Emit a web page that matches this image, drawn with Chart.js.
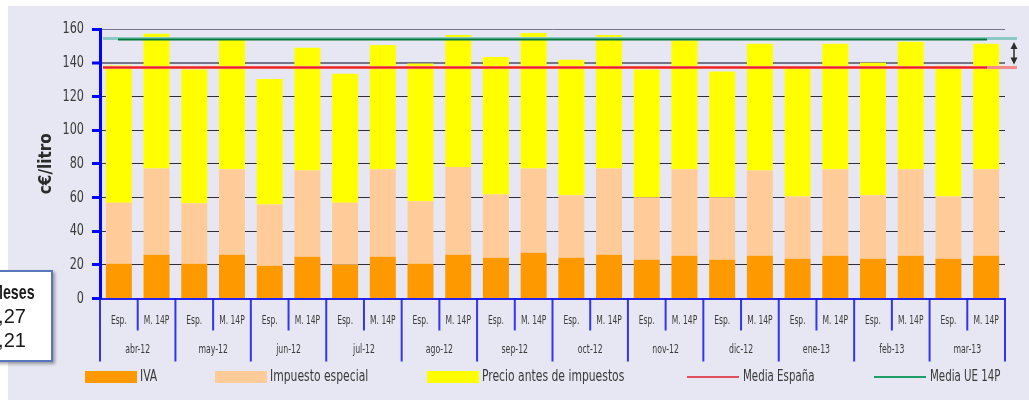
<!DOCTYPE html>
<html lang="es">
<head>
<meta charset="utf-8">
<title>Precio gasolina: España frente a la media UE 14P</title>
<script src="https://cdn.jsdelivr.net/npm/chart.js@4.4.1/dist/chart.umd.min.js"></script>
<style>
  html, body { margin: 0; padding: 0; background: #fff; }
  #wrap { position: relative; width: 1029px; height: 400px; overflow: hidden; }
  #fondo { position: absolute; left: 8px; top: 6px; right: 0; bottom: 0; background: #e7e7f3; }
  #grafico { position: absolute; left: 0; top: 0; }
  #nota {
    position: absolute; left: -30px; top: 270px; width: 83px; height: 92px;
    box-sizing: border-box; background: #fff; border: 2px solid #5a76bd;
    box-shadow: 2px 2px 3px rgba(0, 0, 0, .35);
    padding: 8px 0 0 15px; color: #1a1a1a;
    font-family: "Liberation Sans", Arial, sans-serif; font-size: 20px; line-height: 24px;
  }
  #nota b { display: inline-block; margin-left: 4px; font-size: 21px; transform: scaleX(0.68); transform-origin: left center; }
</style>
</head>
<body>
<div id="wrap">
  <div id="fondo"></div>
  <canvas id="grafico" width="1029" height="400"></canvas>
  <div id="nota"><b>Meses</b><br>0,27<br>0,21</div>
</div>
<script>
// meses y grupo de comparación (España / media 14 países UE)
const meses = ['abr-12', 'may-12', 'jun-12', 'jul-12', 'ago-12', 'sep-12',
               'oct-12', 'nov-12', 'dic-12', 'ene-13', 'feb-13', 'mar-13'];
const grupos = ['Esp.', 'M. 14P'];

// c€/litro, alternando Esp. / M. 14P por mes
const iva = [20.6, 26.0, 20.6, 26.0, 19.4, 24.8, 20.0, 24.8, 20.6, 26.0, 24.2, 27.2,
             24.2, 26.0, 23.0, 25.4, 23.0, 25.4, 23.6, 25.4, 23.6, 25.4, 23.6, 25.4];
const impuestoEspecial = [36.3, 51.2, 35.9, 50.8, 36.4, 51.2, 36.9, 52.0, 37.1, 52.0, 37.5, 50.0,
                          37.1, 51.2, 37.1, 51.4, 37.1, 50.6, 36.9, 51.4, 37.7, 51.4, 36.9, 51.4];
const precioAntesImpuestos = [81.5, 80.0, 79.5, 76.7, 74.5, 72.9, 76.6, 73.7, 81.8, 78.4, 81.7, 80.4,
                              80.5, 79.2, 75.9, 76.3, 74.6, 75.3, 75.9, 74.5, 78.7, 75.7, 77.7, 74.5];

const mediaEspana = 137.2;
const mediaUE14P = 154.0;

const ticksY = [0, 20, 40, 60, 80, 100, 120, 140, 160];

const etiquetas = meses.flatMap(() => grupos);

const fuente = '"DejaVu Sans Condensed", "Liberation Sans Narrow", sans-serif';
const colorTexto = '#3a3a3a';

// texto estrechado horizontalmente
function textoEstrecho(ctx, t, x, y, sx, align) {
  ctx.save();
  ctx.translate(x, y);
  ctx.scale(sx, 1);
  ctx.textAlign = align;
  ctx.textBaseline = 'middle';
  ctx.fillText(t, 0, 0);
  ctx.restore();
}

// lineas de media sobre las barras y flecha de diferencia
const lineasMedia = {
  id: 'lineasMedia',
  afterDatasetsDraw(chart) {
    const { ctx, scales: { x, y } } = chart;
    const yEs = y.getPixelForValue(mediaEspana);
    const yUe = y.getPixelForValue(mediaUE14P);
    const hline = (x0, x1, yy, color, w) => {
      ctx.beginPath();
      ctx.strokeStyle = color;
      ctx.lineWidth = w;
      ctx.moveTo(x0, yy);
      ctx.lineTo(x1, yy);
      ctx.stroke();
    };
    ctx.save();
    hline(x.left + 3, x.right + 12, yUe - 0.5, '#8cc8c4', 3);
    hline(x.left + 18, x.right - 18, yUe + 0.5, '#007a3a', 2);
    hline(x.left + 3, x.right + 12, yEs, '#f58a8a', 3);
    hline(x.left + 3, x.right - 18, yEs, '#ee2020', 2);

    // flecha doble entre ambas medias
    const ax = x.right + 9;
    const top = yUe + 3, bot = yEs - 3;
    ctx.strokeStyle = '#2c2c2c';
    ctx.fillStyle = '#2c2c2c';
    ctx.lineWidth = 1.5;
    ctx.beginPath();
    ctx.moveTo(ax, top + 4);
    ctx.lineTo(ax, bot - 4);
    ctx.stroke();
    ctx.beginPath();
    ctx.moveTo(ax, top); ctx.lineTo(ax - 3.5, top + 7); ctx.lineTo(ax + 3.5, top + 7); ctx.closePath();
    ctx.moveTo(ax, bot); ctx.lineTo(ax - 3.5, bot - 7); ctx.lineTo(ax + 3.5, bot - 7); ctx.closePath();
    ctx.fill();
    ctx.restore();
  }
};

// etiquetas de los ejes, separadores del eje X y leyenda
const rotulos = {
  id: 'rotulos',
  afterDraw(chart) {
    const { ctx, scales: { x, y } } = chart;
    ctx.save();
    ctx.fillStyle = colorTexto;

    // eje Y
    ctx.font = '16px ' + fuente;
    ticksY.forEach(v => textoEstrecho(ctx, String(v), 84, y.getPixelForValue(v), 0.78, 'right'));

    // eje X: separadores
    const base = x.top;
    const mitad = (x.getPixelForValue(1) - x.getPixelForValue(0)) / 2;
    ctx.strokeStyle = 'rgba(20, 20, 240, 0.85)';
    ctx.lineWidth = 2;
    for (let i = 0; i <= etiquetas.length; i++) {
      const px = i < etiquetas.length ? x.getPixelForValue(i) - mitad : x.getPixelForValue(i - 1) + mitad;
      ctx.beginPath();
      ctx.moveTo(px, base);
      ctx.lineTo(px, base + (i % 2 === 0 ? 63 : 32));
      ctx.stroke();
    }

    // eje X: grupo y mes
    ctx.font = '12px ' + fuente;
    etiquetas.forEach((t, i) => textoEstrecho(ctx, t, x.getPixelForValue(i), base + 22.5, 0.7, 'center'));
    meses.forEach((m, k) => {
      const cx = (x.getPixelForValue(2 * k) + x.getPixelForValue(2 * k + 1)) / 2;
      textoEstrecho(ctx, m, cx, base + 51.5, 0.72, 'center');
    });

    // leyenda
    const ly = 377;
    ctx.font = '15px ' + fuente;
    const cajas = [[85, 0], [215, 1], [427, 2]];
    cajas.forEach(([lx, d]) => {
      const ds = chart.data.datasets[d];
      ctx.fillStyle = ds.backgroundColor;
      ctx.fillRect(lx, ly - 6, 52, 12);
      ctx.fillStyle = colorTexto;
      textoEstrecho(ctx, ds.label, lx + 55, ly, 0.8, 'left');
    });
    const lineas = [[687, '#e0505c', 'Media España'], [874, '#1f9e6a', 'Media UE 14P']];
    lineas.forEach(([lx, c, t]) => {
      ctx.strokeStyle = c;
      ctx.lineWidth = 2;
      ctx.beginPath();
      ctx.moveTo(lx, ly);
      ctx.lineTo(lx + 52, ly);
      ctx.stroke();
      ctx.fillStyle = colorTexto;
      textoEstrecho(ctx, t, lx + 56, ly, 0.76, 'left');
    });
    ctx.restore();
  }
};

new Chart(document.getElementById('grafico'), {
  type: 'bar',
  data: {
    labels: etiquetas,
    datasets: [
      { label: 'IVA', data: iva, backgroundColor: '#ff9900' },
      { label: 'Impuesto especial', data: impuestoEspecial, backgroundColor: '#ffcc99' },
      { label: 'Precio antes de impuestos', data: precioAntesImpuestos, backgroundColor: '#ffff00' }
    ]
  },
  options: {
    responsive: false,
    animation: false,
    layout: { padding: { top: 29, right: 24, left: 0, bottom: 0 } },
    datasets: { bar: { categoryPercentage: 1, barPercentage: 0.69, borderWidth: 0 } },
    plugins: { legend: { display: false }, tooltip: { enabled: false } },
    scales: {
      x: {
        stacked: true,
        grid: { display: false, drawTicks: false },
        border: { display: true, color: '#2424f0', width: 2 },
        ticks: { display: false },
        afterFit(scale) { scale.height = 101.5; }
      },
      y: {
        stacked: true,
        min: 0,
        max: 160,
        afterBuildTicks(scale) { scale.ticks = ticksY.map(v => ({ value: v })); },
        grid: {
          color: c => (c.tick && c.tick.value >= 140 ? '#74748a' : '#2e2e38'),
          lineWidth: c => (c.tick && c.tick.value === 140 ? 2 : 1),
          tickLength: 8,
          tickColor: '#0000ff',
          tickWidth: 3
        },
        border: { display: true, color: '#0000ff', width: 3 },
        ticks: { display: false },
        title: {
          display: true,
          text: 'c€/litro',
          color: '#2a2a2a',
          font: { family: fuente, size: 17, weight: 'bold' },
          padding: { top: 36, bottom: 0 }
        },
        afterFit(scale) { scale.width = 100; }
      }
    }
  },
  plugins: [lineasMedia, rotulos]
});
</script>
</body>
</html>
